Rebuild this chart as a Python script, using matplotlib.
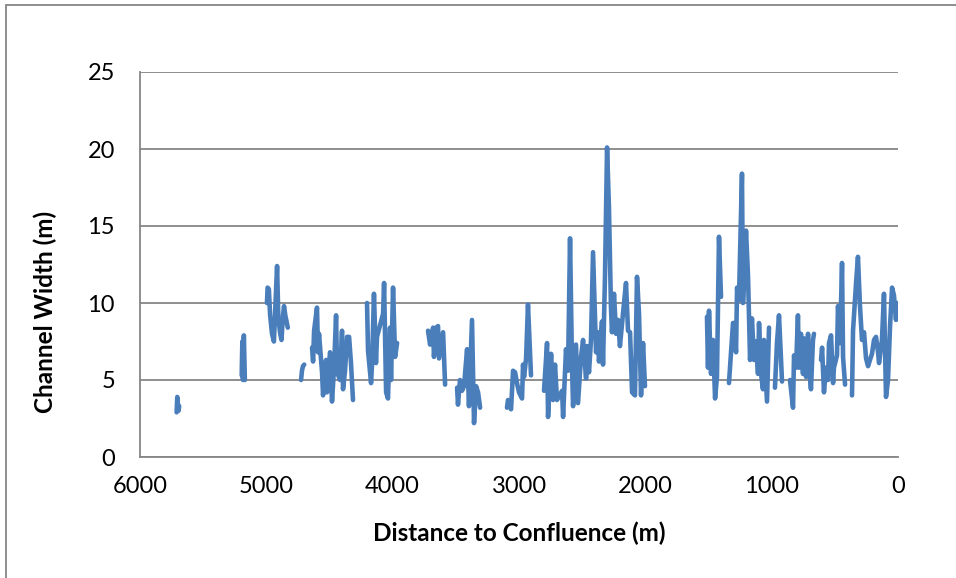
import numpy as np
import matplotlib.pyplot as plt
from matplotlib.patches import Rectangle

plt.rcParams['font.family'] = ['Lato', 'DejaVu Sans']

# distance to confluence (m) and channel width (m); None marks a gap in the survey
distance = [
    5710, 5705, 5695, 5690, None,
    5195, 5190, 5185, 5178, 5170, None,
    4995, 4990, 4980, 4970, 4955, 4940, 4925, 4915, 4905, 4890, 4880, 4870,
    4860, 4850, 4830, None,
    4725, 4718, 4710, 4700, None,
    4638, 4630, 4622, 4599, 4591, 4583, 4559, 4551, 4527, 4520, 4496, 4480,
    4464, 4448, 4440, 4417, 4401, 4393, 4377, 4361, 4345, 4330, 4314, None,
    4203, 4195, 4171, 4163, 4148, 4132, 4124, 4076, 4068, 4052, 4037, 4021,
    4013, 3997, 3981, 3965, None,
    3720, 3704, 3680, 3673, 3657, 3641, 3633, 3601, 3585, None,
    3490, 3483, 3467, 3451, 3435, 3411, 3396, 3372, 3356, 3340, 3324, 3308, None,
    3095, 3087, 3063, 3047, 3031, 3016, 3000, 2976, 2968, 2960, 2944, 2929,
    2905, None,
    2802, 2778, 2770, 2746, 2731, 2715, 2699, 2659, 2651, 2628, 2612, 2596,
    2580, 2572, 2549, 2533, 2509, 2493, 2469, 2462, 2446, 2430, 2414, 2390,
    2375, 2367, 2343, 2335, 2319, 2303, 2288, 2272, 2264, 2248, 2232, 2216,
    2201, 2177, 2153, 2137, 2121, 2105, 2082, 2066, 2050, 2034, 2018, 2003, None,
    1512, 1504, 1496, 1480, 1464, 1448, 1433, 1417, 1401, None,
    1338, 1322, 1306, 1298, 1282, 1274, 1259, 1235, 1227, 1203, 1187, 1171,
    1156, 1140, 1124, 1108, 1100, 1084, 1069, 1061, 1037, 1021, None,
    974, 958, 942, 926, 918, None,
    855, 831, 823, 807, 792, 784, 768, 752, 744, 728, 712, 704, 689, 673, 665, None,
    609, 601, 586, 570, 554, 546, 530, 514, 507, 483, 475, 459, 443, 435, 419, None,
    364, 356, 332, 317, 301, 285, 269, 253, 237, 222, 206, 190, 174, 158, 150,
    127, 111, 95, 79, 63, 47, 32, 16, 8,
]
width = [
    2.9, 3.9, 3.0, 3.3, None,
    5.3, 7.5, 5.0, 7.9, 5.0, None,
    10.0, 11.0, 10.9, 9.2, 8.0, 7.5, 10.5, 12.4, 9.0, 8.0, 7.6, 9.0,
    9.8, 9.2, 8.4, None,
    5.0, 5.6, 5.9, 6.0, None,
    7.1, 6.2, 8.2, 9.7, 6.8, 8.0, 5.5, 4.0, 6.3, 4.2, 6.8, 3.6,
    5.8, 9.2, 5.5, 5.0, 8.2, 4.4, 5.6, 7.8, 7.8, 6.1, 3.7, None,
    10.0, 6.9, 4.8, 6.1, 10.6, 6.1, 7.8, 9.3, 11.3, 4.2, 3.8, 8.4,
    5.0, 11.0, 6.5, 7.4, None,
    8.2, 7.3, 8.4, 6.5, 8.4, 8.5, 6.4, 8.1, 4.7, None,
    4.5, 3.4, 5.0, 4.3, 4.6, 7.0, 3.3, 8.9, 2.2, 4.6, 4.2, 3.2, None,
    3.2, 3.7, 3.1, 5.6, 5.5, 4.8, 4.2, 3.8, 6.0, 5.2, 6.4, 9.9,
    5.3, None,
    4.3, 7.4, 2.6, 6.7, 3.7, 6.0, 3.7, 4.3, 2.6, 7.0, 5.6, 14.2,
    5.8, 3.3, 7.3, 3.5, 6.5, 7.6, 5.1, 7.2, 5.5, 7.6, 13.3, 6.8,
    8.1, 6.2, 8.8, 6.0, 11.9, 20.1, 16.2, 9.7, 8.1, 10.6, 8.0, 8.9,
    7.2, 9.3, 11.3, 8.2, 8.1, 4.2, 4.0, 11.7, 9.3, 4.0, 7.4, 4.6, None,
    9.1, 5.8, 9.5, 5.4, 7.6, 3.8, 5.2, 14.3, 10.4, None,
    4.8, 6.7, 8.7, 8.7, 6.8, 11.0, 10.2, 18.4, 10.0, 14.7, 11.7, 6.3,
    9.0, 6.3, 7.5, 5.4, 8.7, 5.4, 4.4, 7.6, 3.6, 8.4, None,
    4.5, 7.4, 9.2, 6.3, 4.9, None,
    5.0, 3.2, 6.6, 5.8, 9.2, 5.8, 8.0, 5.4, 7.7, 5.2, 8.0, 5.8, 4.4, 7.6, 8.0, None,
    6.3, 7.1, 4.2, 5.8, 5.0, 7.4, 7.9, 4.8, 5.8, 6.6, 9.8, 7.4, 12.6, 6.5, 4.7, None,
    4.0, 8.2, 11.3, 13.0, 9.8, 7.6, 8.1, 6.4, 5.9, 6.3, 6.7, 7.6, 7.8, 6.8, 6.1,
    7.6, 10.6, 3.9, 5.0, 8.5, 11.0, 10.5, 8.9, 10.0,
]

x = np.array([np.nan if v is None else v for v in distance], dtype=float)
y = np.array([np.nan if v is None else v for v in width], dtype=float)

grey = '#868686'
fig = plt.figure(figsize=(9.56, 5.78), dpi=100)
ax = fig.add_axes([140 / 956, 1 - 457 / 578, 758 / 956, 385 / 578])

ax.plot(x, y, color='#4A7EBB', lw=3.3, solid_joinstyle='round', solid_capstyle='round')

ax.set_xlim(6000, 0)
ax.set_ylim(0, 25)
ax.set_xticks(np.arange(0, 6001, 1000))
ax.set_yticks(np.arange(0, 26, 5))
ax.grid(axis='y', color=grey, lw=1.3)
ax.set_axisbelow(True)
for s in ['top', 'right']:
    ax.spines[s].set_visible(False)
for s in ['left', 'bottom']:
    ax.spines[s].set_color(grey)
    ax.spines[s].set_linewidth(1.3)
ax.tick_params(length=0, labelsize=17, pad=14)
ax.tick_params(axis='y', pad=18)

ax.set_xlabel('Distance to Confluence (m)', fontsize=17.5, fontweight='bold', labelpad=17)
ax.set_ylabel('Channel Width (m)', fontsize=17.5, fontweight='bold')
ax.yaxis.set_label_coords(-0.109, 0.377)

# outer chart border (cut off at right and bottom)
fig.patches.append(Rectangle((6 / 956, -0.05), 1.1, 1 - 5 / 578 + 0.05,
                             transform=fig.transFigure, fill=False,
                             edgecolor=grey, lw=1.3))

fig.savefig('out.png', dpi=100)
